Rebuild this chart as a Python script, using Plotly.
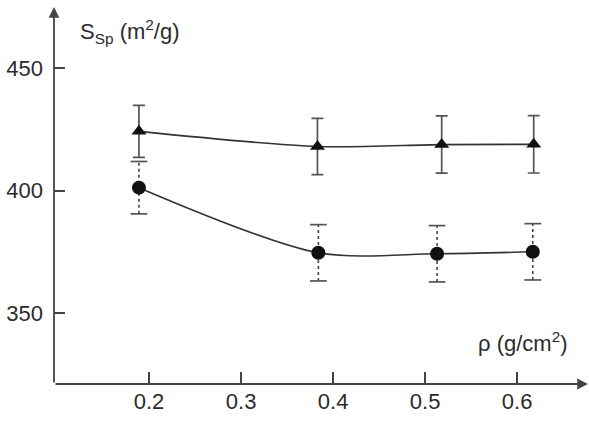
import plotly.graph_objects as go

# Data
x_tri = [0.189, 0.383, 0.518, 0.618]
y_tri = [424.2, 418.0, 418.8, 418.9]
e_tri = [10.6, 11.5, 11.7, 11.7]

x_cir = [0.189, 0.384, 0.513, 0.617]
y_cir = [401.2, 374.6, 374.2, 375.0]
e_cir = [10.7, 11.5, 11.5, 11.5]

x_ticks = [0.2, 0.3, 0.4, 0.5, 0.6]
y_ticks = [350, 400, 450]

X_RANGE = [0.0967, 0.677]
Y_RANGE = [321, 475]

FONT = "Liberation Sans, Arial, Helvetica, sans-serif"
TXT = "#2b2b2b"
AX = "#444444"
ERR = "#555555"
LINE = "#333333"
MARK = "#111111"

fig = go.Figure()

# circle series: dotted vertical error bars
ex, ey = [], []
for xv, yv, ev in zip(x_cir, y_cir, e_cir):
    ex += [xv, xv, None]
    ey += [yv - ev, yv + ev, None]
fig.add_trace(go.Scatter(x=ex, y=ey, mode="lines",
                         line=dict(color=AX, width=1.6, dash="dot"),
                         hoverinfo="skip", showlegend=False))
# caps for circle error bars
cx, cy = [], []
for xv, yv, ev in zip(x_cir, y_cir, e_cir):
    cx += [xv, xv]
    cy += [yv - ev, yv + ev]
fig.add_trace(go.Scatter(x=cx, y=cy, mode="markers",
                         marker=dict(symbol="line-ew", size=12,
                                     line=dict(color=ERR, width=1.7)),
                         hoverinfo="skip", showlegend=False))

# triangle series with solid error bars
fig.add_trace(go.Scatter(x=x_tri, y=y_tri, mode="lines",
                         line=dict(color=LINE, width=1.6, shape="spline", smoothing=0.8),
                         error_y=dict(type="data", array=e_tri, visible=True,
                                      color=ERR, thickness=1.7, width=6),
                         showlegend=False))
fig.add_trace(go.Scatter(x=x_tri, y=y_tri, mode="markers",
                         marker=dict(symbol="triangle-up", size=13, color=MARK),
                         showlegend=False))

# circle series line and markers
fig.add_trace(go.Scatter(x=x_cir, y=y_cir, mode="lines",
                         line=dict(color=LINE, width=1.6, shape="spline", smoothing=0.85),
                         showlegend=False))
fig.add_trace(go.Scatter(x=x_cir, y=y_cir, mode="markers",
                         marker=dict(symbol="circle", size=14, color=MARK),
                         showlegend=False))

# axes with arrows
fig.add_annotation(x=X_RANGE[1], y=Y_RANGE[0], ax=X_RANGE[0], ay=Y_RANGE[0],
                   xref="x", yref="y", axref="x", ayref="y", text="",
                   showarrow=True, arrowhead=2, arrowsize=1.2, arrowwidth=1.8,
                   arrowcolor=AX, standoff=0, startstandoff=0)
fig.add_annotation(x=X_RANGE[0], y=Y_RANGE[1], ax=X_RANGE[0], ay=Y_RANGE[0],
                   xref="x", yref="y", axref="x", ayref="y", text="",
                   showarrow=True, arrowhead=2, arrowsize=1.2, arrowwidth=1.8,
                   arrowcolor=AX, standoff=0, startstandoff=0)

# axis titles
fig.add_annotation(x=0.1228, y=465, xref="x", yref="y",
                   text="S<sub>Sp</sub> (m<sup>2</sup>/g)", showarrow=False,
                   xanchor="left", yanchor="middle",
                   font=dict(family=FONT, size=22, color=TXT))
fig.add_annotation(x=0.6576, y=338.1, xref="x", yref="y",
                   text="ρ (g/cm<sup>2</sup>)", showarrow=False,
                   xanchor="right", yanchor="middle",
                   font=dict(family=FONT, size=22, color=TXT))

fig.update_xaxes(range=X_RANGE, tickvals=x_ticks, ticktext=[str(v) for v in x_ticks],
                 ticks="inside", ticklen=12, tickwidth=1.6, tickcolor=AX,
                 showgrid=False, zeroline=False, showline=False,
                 tickfont=dict(family=FONT, size=22, color=TXT), ticklabelstandoff=2)
fig.update_yaxes(range=Y_RANGE, tickvals=y_ticks, ticktext=[str(v) for v in y_ticks],
                 ticks="inside", ticklen=11, tickwidth=1.6, tickcolor=AX,
                 showgrid=False, zeroline=False, showline=False,
                 tickfont=dict(family=FONT, size=22, color=TXT), ticklabelstandoff=10)

fig.update_layout(width=589, height=423,
                  margin=dict(l=54, r=1, t=7, b=39, autoexpand=False),
                  plot_bgcolor="white", paper_bgcolor="white",
                  showlegend=False)

fig.write_html("out.html")
